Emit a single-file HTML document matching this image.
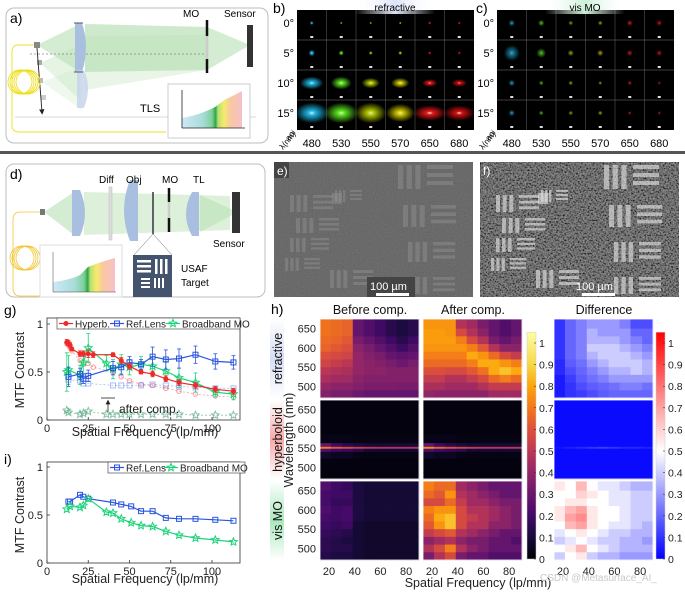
<!DOCTYPE html>
<html><head><meta charset="utf-8"><style>
html,body{margin:0;padding:0;background:#fff;}
svg{display:block;font-family:"Liberation Sans",Arial,sans-serif;}
</style></head><body>
<svg id="fig" width="685" height="592" viewBox="0 0 685 592" xmlns="http://www.w3.org/2000/svg">
<defs>
<linearGradient id="spec" x1="0" x2="1" y1="0" y2="0">
<stop offset="0" stop-color="#cfe9f7"/><stop offset="0.35" stop-color="#a8dcd8"/><stop offset="0.5" stop-color="#7fcf9a"/><stop offset="0.56" stop-color="#2aa84a"/><stop offset="0.6" stop-color="#b8e070"/><stop offset="0.7" stop-color="#f4ec6a"/><stop offset="0.8" stop-color="#f9c9a0"/><stop offset="1" stop-color="#f6c0c8"/>
</linearGradient>
<linearGradient id="bluebg" x1="0" x2="1"><stop offset="0" stop-color="#fff" stop-opacity="0"/><stop offset="0.5" stop-color="#dbe3f8"/><stop offset="1" stop-color="#fff" stop-opacity="0"/></linearGradient>
<linearGradient id="greenbg" x1="0" x2="1"><stop offset="0" stop-color="#fff" stop-opacity="0"/><stop offset="0.5" stop-color="#c9f0d6"/><stop offset="1" stop-color="#fff" stop-opacity="0"/></linearGradient>
<linearGradient id="sideBlue" x1="0" x2="0" y1="0" y2="1"><stop offset="0" stop-color="#fff"/><stop offset="0.5" stop-color="#d5def6"/><stop offset="1" stop-color="#fff"/></linearGradient>
<linearGradient id="sideRed" x1="0" x2="0" y1="0" y2="1"><stop offset="0" stop-color="#fff"/><stop offset="0.5" stop-color="#f6a9a9"/><stop offset="1" stop-color="#fff"/></linearGradient>
<linearGradient id="sideGreen" x1="0" x2="0" y1="0" y2="1"><stop offset="0" stop-color="#fff"/><stop offset="0.5" stop-color="#a9e8bd"/><stop offset="1" stop-color="#fff"/></linearGradient>
<linearGradient id="cbInferno" x1="0" x2="0" y1="1" y2="0">
<stop offset="0" stop-color="#000004"/><stop offset="0.095" stop-color="#160b39"/><stop offset="0.19" stop-color="#420a68"/><stop offset="0.286" stop-color="#6a176e"/><stop offset="0.381" stop-color="#932667"/><stop offset="0.476" stop-color="#bc3754"/><stop offset="0.571" stop-color="#dd513a"/><stop offset="0.667" stop-color="#f37819"/><stop offset="0.762" stop-color="#fca50a"/><stop offset="0.857" stop-color="#f6d746"/><stop offset="1" stop-color="#fcffa4"/>
</linearGradient>
<linearGradient id="cbBWR" x1="0" x2="0" y1="1" y2="0"><stop offset="0" stop-color="#0000ff"/><stop offset="0.476" stop-color="#ffffff"/><stop offset="1" stop-color="#ff0000"/></linearGradient>
<filter id="noiseE" x="0" y="0" width="1" height="1"><feTurbulence type="fractalNoise" baseFrequency="0.9" numOctaves="1" seed="3"/><feColorMatrix type="matrix" values="0 0 0 0 0.42 0 0 0 0 0.42 0 0 0 0 0.42 0.2 0.2 0.2 0 -0.15"/></filter>
<filter id="noiseF" x="0" y="0" width="1" height="1"><feTurbulence type="fractalNoise" baseFrequency="0.6" numOctaves="2" seed="7"/><feColorMatrix type="matrix" values="1.3 0 0 0 -0.38 1.3 0 0 0 -0.38 1.3 0 0 0 -0.38 0 0 0 0 1"/></filter>
<marker id="arrowHead" markerWidth="6" markerHeight="6" refX="3" refY="3" orient="auto"><path d="M0,0 L6,3 L0,6 z" fill="#222"/></marker>
</defs>

<!-- Panel a -->
<g>
<rect x="6" y="8" width="262" height="135" rx="8" fill="#fff" stroke="#bdbdbd"/>
<polygon points="37,45 80,24 80,72" fill="#9fd49a" opacity="0.45"/>
<polygon points="40,63 80,45 80,100" fill="#b7e0b1" opacity="0.35"/>
<polygon points="42,82 82,66 82,110" fill="#c7e8c2" opacity="0.3"/>
<polygon points="85,24 207,27 207,70 85,72" fill="#9fd49a" opacity="0.5"/>
<polygon points="85,36 207,35 207,70 85,90" fill="#b7e0b1" opacity="0.3"/>
<polygon points="207,27 250,45 207,70" fill="#9fd49a" opacity="0.45"/>
<line x1="30" y1="54" x2="207" y2="54" stroke="#888" stroke-dasharray="2,2" stroke-width="0.7"/>
<path d="M75,23 L82,23 Q90,47 82,72 L75,72 Z" fill="#a9bfe0"/>
<path d="M77,70 L84,70 Q92,88 84,108 L77,108 Z" fill="#c4d3ec" opacity="0.8"/>
<line x1="74" y1="23" x2="83" y2="23" stroke="#556" stroke-width="1"/>
<line x1="74" y1="72" x2="83" y2="72" stroke="#556" stroke-width="1"/>
<line x1="207" y1="20" x2="207" y2="36" stroke="#111" stroke-width="2.5"/>
<line x1="207" y1="36" x2="207" y2="59" stroke="#ccc" stroke-width="2.5"/>
<line x1="207" y1="59" x2="207" y2="73" stroke="#111" stroke-width="2.5"/>
<rect x="247" y="25" width="6" height="42" fill="#333"/>
<rect x="34" y="42" width="6" height="6" fill="#888"/>
<rect x="37" y="60" width="5" height="5" fill="#aaa"/>
<rect x="38" y="78" width="5" height="5" fill="#bbb"/>
<rect x="41" y="95" width="5" height="5" fill="#ccc"/>
<line x1="37" y1="48" x2="42" y2="112" stroke="#222" stroke-width="0.9" marker-end="url(#arrowHead)"/>
<g fill="none" stroke="#f0df20" stroke-width="0.9">
<circle cx="20" cy="82" r="12"/><circle cx="22" cy="82" r="12"/><circle cx="24" cy="82" r="12"/><circle cx="26" cy="82" r="12"/><circle cx="28" cy="82" r="12"/>
<path d="M34,45 L18,45 Q12,45 12,52 L12,126 Q12,132 20,132 L166,132"/>
</g>
<line x1="15" y1="117" x2="256" y2="117" stroke="#ccc" stroke-width="0.8"/>
<rect x="168" y="84" width="82" height="54" fill="#fff" stroke="#ccc"/>
<path d="M182,128 L182,118 Q200,115 215,107 L226,99 Q235,95 242,91 L242,128 Z" fill="url(#spec)"/>
<line x1="182" y1="128" x2="245" y2="128" stroke="#222" stroke-width="0.8"/>
<line x1="182" y1="128" x2="182" y2="90" stroke="#222" stroke-width="0.8"/>
<text x="10" y="23" font-size="14">a)</text>
<text x="183" y="17" font-size="10">MO</text>
<text x="224" y="17" font-size="10">Sensor</text>
<text x="140" y="112" font-size="11">TLS</text>
</g>

<!-- Panels b, c spots -->
<g id="spots"></g>
<rect x="355" y="0" width="80" height="14" fill="url(#bluebg)"/>
<rect x="545" y="0" width="80" height="14" fill="url(#greenbg)"/>
<text x="273" y="13" font-size="14">b)</text>
<text x="395" y="11" font-size="10" text-anchor="middle">refractive</text>
<text x="476" y="13" font-size="14">c)</text>
<text x="585" y="11" font-size="10" text-anchor="middle">vis MO</text>

<rect x="0" y="151" width="685" height="3" fill="#555"/>

<!-- Panel d -->
<g>
<rect x="6" y="164" width="259" height="133" rx="8" fill="#fff" stroke="#bdbdbd"/>
<polygon points="44,212 74,192 74,235" fill="#a9d9a3" opacity="0.5"/>
<polygon points="84,192 230,196 230,230 84,235" fill="#a9d9a3" opacity="0.4"/>
<polygon points="200,195 238,212 200,232" fill="#a9d9a3" opacity="0.4"/>
<path d="M72,190 L80,190 Q90,213 80,236 L72,236 Z" fill="#a9bfe0"/>
<rect x="109" y="187" width="3" height="53" fill="#ddd" stroke="#bbb" stroke-width="0.5"/>
<path d="M130,180 L138,180 L138,241 L130,241 Q118,210 130,180 Z" fill="#a9bfe0"/>
<line x1="153" y1="192" x2="153" y2="234" stroke="#334" stroke-width="1.5"/>
<line x1="169" y1="188" x2="169" y2="202" stroke="#111" stroke-width="2.5"/>
<line x1="169" y1="202" x2="169" y2="218" stroke="#ccc" stroke-width="2.5"/>
<line x1="169" y1="218" x2="169" y2="232" stroke="#111" stroke-width="2.5"/>
<path d="M192,192 L199,192 L199,236 L192,236 Q180,214 192,192 Z" fill="#a9bfe0"/>
<rect x="232" y="192" width="8" height="41" fill="#333"/>
<rect x="40" y="209" width="5" height="6" fill="#777"/>
<g fill="none" stroke="#f2c530" stroke-width="0.8">
<circle cx="22" cy="258" r="12"/><circle cx="24" cy="258" r="12"/><circle cx="26" cy="258" r="12"/><circle cx="28" cy="258" r="12"/>
<path d="M40,212 L20,212 Q13,212 13,220 L13,288 Q13,296 20,296 L40,296"/>
</g>
<rect x="40" y="245" width="82" height="52" fill="#fff" stroke="#ddd"/>
<path d="M53,292 L53,282 Q70,280 80,275 L88,267 Q100,262 115,258 L115,292 Z" fill="url(#spec)"/>
<line x1="53" y1="292" x2="116" y2="292" stroke="#444" stroke-width="0.5"/>
<line x1="53" y1="292" x2="53" y2="252" stroke="#444" stroke-width="0.5"/>
<line x1="153" y1="234" x2="134" y2="255" stroke="#666" stroke-width="0.5"/>
<line x1="153" y1="234" x2="172" y2="255" stroke="#666" stroke-width="0.5"/>
<rect x="133" y="255" width="39" height="42" fill="#44546e"/>
<g fill="#fff"><rect x="137" y="260" width="14" height="2.5"/><rect x="137" y="265" width="14" height="2.5"/><rect x="137" y="270" width="14" height="2.5"/><rect x="155" y="259" width="2.5" height="15"/><rect x="160" y="259" width="2.5" height="15"/><rect x="165" y="259" width="2.5" height="15"/>
<rect x="141" y="278" width="9" height="2"/><rect x="141" y="282" width="9" height="2"/><rect x="141" y="286" width="9" height="2"/><rect x="154" y="278" width="2" height="10"/><rect x="158" y="278" width="2" height="10"/><rect x="162" y="278" width="2" height="10"/></g>
<text x="10" y="179" font-size="14">d)</text>
<text x="99" y="183" font-size="10">Diff</text>
<text x="126" y="183" font-size="10">Obj</text>
<text x="162" y="183" font-size="10">MO</text>
<text x="193" y="183" font-size="10">TL</text>
<text x="213" y="247" font-size="10">Sensor</text>
<text x="181" y="272" font-size="10">USAF</text>
<text x="181" y="286" font-size="10">Target</text>
</g>

<!-- Panels e, f -->
<g>
<rect x="274" y="162" width="199" height="135" fill="#5e5e5e"/>
<rect x="274" y="162" width="199" height="135" filter="url(#noiseE)"/>
<g id="barsE"></g>
<rect x="274" y="162" width="15" height="16" fill="#444"/>
<text x="277" y="175" font-size="12" fill="#fff">e)</text>
<rect x="367" y="277" width="48" height="20" fill="#444"/>
<text x="370" y="290" font-size="11" fill="#fff">100 µm</text>
<rect x="376" y="293" width="33" height="3" fill="#fff"/>
</g>
<g>
<rect x="480" y="162" width="199" height="135" fill="#4a4a4a"/>
<rect x="480" y="162" width="199" height="135" filter="url(#noiseF)" opacity="0.55"/>
<g id="barsF"></g>
<text x="483" y="175" font-size="12" fill="#fff">f)</text>
<text x="576" y="290" font-size="11" fill="#fff">100 µm</text>
<rect x="582" y="293" width="33" height="3" fill="#fff"/>
</g>

<!-- Panel g / i -->
<g id="chartG"></g>
<g id="chartI"></g>
<text x="4" y="315" font-size="14">g)</text>
<text x="4" y="464" font-size="14">i)</text>

<!-- Panel h -->
<g id="chartH"></g>
<text x="271" y="314" font-size="14">h)</text>
<text x="540" y="581" font-size="10" fill="#c8c8c8">CSDN @Metasurface_AI_</text>
</svg>
<script>
const NS='http://www.w3.org/2000/svg';
const svg=document.getElementById('fig');
function mk(tag,attrs,parent){const e=document.createElementNS(NS,tag);for(const k in attrs)e.setAttribute(k,attrs[k]);(parent||svg).appendChild(e);return e;}
function txt(s,attrs,parent){const e=mk('text',attrs,parent);e.textContent=s;return e;}

/* ---------- b/c spot grids ---------- */
const spotWavelengths=[480,530,550,570,650,680];
const spotAngles=['0°','5°','10°','15°'];
const refrSpotRx=[[1.5,1,1,1,1.2,1.2],[2.5,2,1.5,1.5,1.2,1.2],[9,8,7,7,6,6],[13,13,12,11,13,12]];
const refrSpotRy=[[1.5,1,1,1,1.2,1.2],[2.5,2,1.5,1.5,1.2,1.2],[5,5,4,4,3,3],[8,8,8,7,6,6]];
const moSpotRx=[[2,2,1.5,1.5,2,2],[5,3,2,2,2,2],[2,1.5,1.5,1.2,1.5,1.2],[2,1.5,1.5,1.5,1.2,1.2]];
const spotColors=['#22ccff','#66ff22','#c8e000','#e8e000','#ff1a1a','#ee1111'];
const spotsG=document.getElementById('spots');
const defs=svg.querySelector('defs');
spotColors.forEach((c,i)=>{const g=mk('radialGradient',{id:'sp'+i},defs);mk('stop',{offset:'0','stop-color':'#fff'},g);mk('stop',{offset:'0.2','stop-color':c},g);mk('stop',{offset:'1','stop-color':c,'stop-opacity':'0'},g);});
function spotGrid(x0,rx,ry,scale,op){
  const w=29.5,h=30,y0=10;
  const bg=mk('rect',{x:x0,y:y0,width:w*6,height:h*4,fill:'#000'},spotsG);
  
  
  for(let r=0;r<4;r++)for(let c=0;c<6;c++){
    const cx=x0+w*c+w/2, cy=y0+h*r+h/2-2;
    const s=mk('ellipse',{cx:cx,cy:cy,rx:rx[r][c]*scale,ry:(ry?ry[r][c]:rx[r][c])*scale,fill:'url(#sp'+c+')',opacity:op},spotsG);
    
    
    mk('rect',{x:cx-1.5,y:y0+h*r+h-4,width:3,height:2,fill:'#ddd'},spotsG);
  }
  for(let c=1;c<6;c++)mk('line',{x1:x0+w*c,y1:y0,x2:x0+w*c,y2:y0+h*4,stroke:'#555','stroke-width':0.6},spotsG);
  for(let r=1;r<4;r++)mk('line',{x1:x0,y1:y0+h*r,x2:x0+w*6,y2:y0+h*r,stroke:'#777','stroke-width':0.6},spotsG);
  spotAngles.forEach((a,r)=>{const t=txt(a,{x:x0-3,y:y0+h*r+h/2+2,'font-size':11,'text-anchor':'end'},spotsG);});
  spotWavelengths.forEach((wl,c)=>{const t=txt(String(wl),{x:x0+w*c+w/2,y:147,'font-size':11,'text-anchor':'middle'},spotsG);});
  txt('aoi',{x:0,y:0,'font-size':8,transform:'translate('+(x0-8)+',141) rotate(-50)'},spotsG);
  txt('λ(nm)',{x:0,y:0,'font-size':8,transform:'translate('+(x0-14)+',150) rotate(-50)'},spotsG);
}
spotGrid(297,refrSpotRx,refrSpotRy,1.3,0.9);
spotGrid(497,moSpotRx,null,1.6,0.6);

/* ---------- e/f USAF bars ---------- */
function usaf(gid,ox,col,op){
  const g=document.getElementById(gid);
  const groups=[[398,165,26,24],[403,205,25,22],[408,242,22,20],[408,277,22,17],[290,195,20,17],[296,218,20,15],[290,238,18,14],[285,258,16,13],[330,270,20,18],[335,190,12,12]];
  groups.forEach(q=>{
    const [x,y,w,h]=q;const X=x+ox;
    for(let k=0;k<3;k++){mk('rect',{x:X+k*w/3,y:y,width:w/5,height:h,fill:col,opacity:op},g);}
    for(let k=0;k<3;k++){mk('rect',{x:X+w+3,y:y+k*h/3,width:w,height:h/6,fill:col,opacity:op},g);}
  });
  mk('rect',{x:332+ox,y:193,width:10,height:11,fill:col,opacity:op},g);
}
usaf('barsE',0,'#999',0.4);
usaf('barsF',206,'#ddd',0.65);

/* ---------- Chart g ---------- */
const gFreqHyp=[12,13,14,15,20,22,25,28,40,45,50,57,64,72,80,90,102,113];
const gHyp=[0.81,0.80,0.78,0.74,0.69,0.69,0.69,0.68,0.68,0.62,0.56,0.50,0.48,0.43,0.39,0.36,0.32,0.30];
const gHypErr=[0.03,0.03,0.03,0.02,0.03,0.03,0.04,0.03,0.02,0.03,0.03,0.02,0.03,0.03,0.03,0.03,0.03,0.03];
const gHypComp=[0.80,0.78,0.75,0.72,0.62,0.58,0.59,0.55,0.50,0.45,0.41,0.37,0.36,0.33,0.30,0.27,0.25,0.24];
const gFreqRef=[13,20,22,25,40,45,50,57,64,72,80,90,102,113];
const gRef=[0.45,0.48,0.43,0.46,0.54,0.55,0.60,0.58,0.66,0.63,0.64,0.68,0.61,0.60];
const gRefErr=[0.1,0.06,0.05,0.06,0.07,0.08,0.06,0.05,0.1,0.1,0.1,0.09,0.08,0.07];
const gRefComp=[0.42,0.41,0.38,0.38,0.36,0.36,0.36,0.36,0.37,0.36,0.35,0.34,0.33,0.33];
const gFreqMO=[12,13,20,22,25,36,40,45,50,57,64,72,80,90,102,113];
const gMO=[0.50,0.52,0.47,0.60,0.75,0.59,0.53,0.58,0.55,0.58,0.56,0.51,0.44,0.39,0.29,0.27];
const gMOErr=[0.2,0.15,0.1,0.12,0.15,0.08,0.1,0.1,0.08,0.08,0.1,0.1,0.1,0.1,0.05,0.06];
const gMOComp=[0.10,0.08,0.06,0.07,0.09,0.06,0.06,0.06,0.06,0.06,0.06,0.06,0.06,0.05,0.05,0.05];
const xTicks=[0,25,50,75,100];
const yTicks=[0,0.5,1];
const yTickLabels=['0','0.5','1'];
/* ---------- Chart i ---------- */
const iFreqRef=[13,14,20,22,25,40,45,51,57,64,72,80,90,102,113];
const iRef=[0.64,0.64,0.71,0.69,0.67,0.63,0.61,0.59,0.54,0.54,0.47,0.46,0.46,0.45,0.44];
const iFreqMO=[12,14,20,22,25,36,40,45,51,57,64,72,80,90,102,113];
const iMO=[0.56,0.59,0.58,0.60,0.67,0.53,0.52,0.46,0.42,0.39,0.38,0.33,0.29,0.26,0.24,0.22];

const RED='#f02828',BLUE='#2a55e0',GREEN='#1fd37a';
const xS=f=>47+f*1.65;
function starPath(cx,cy,r){let d='';for(let k=0;k<10;k++){const a=-Math.PI/2+k*Math.PI/5;const rr=k%2?r*0.45:r;d+=(k?'L':'M')+(cx+rr*Math.cos(a)).toFixed(1)+','+(cy+rr*Math.sin(a)).toFixed(1);}return d+'Z';}
function marker(g,type,x,y,col,op){
  let m;
  if(type==='sq')m=mk('rect',{x:x-2.5,y:y-2.5,width:5,height:5,fill:'none',stroke:col,'stroke-width':1,opacity:op},g);
  else if(type==='star')m=mk('path',{d:starPath(x,y,4),fill:'none',stroke:col,'stroke-width':1,opacity:op},g);
  else if(type==='circ')m=mk('circle',{cx:x,cy:y,r:2.2,fill:'none',stroke:col,'stroke-width':1,opacity:op},g);
  else m=mk('circle',{cx:x,cy:y,r:2.5,fill:col,opacity:op},g);
  
  
}
function series(g,xs,ys,yS,col,type,op,dash,err,name){
  const pts=xs.map((f,i)=>xS(f).toFixed(1)+','+yS(ys[i]).toFixed(1)).join(' ');
  const l=mk('polyline',{points:pts,fill:'none',stroke:col,'stroke-width':dash?0.8:1.2,opacity:op,'stroke-dasharray':dash?'2,2':'none'},g);
  
  
  if(err)xs.forEach((f,i)=>{const x=xS(f);mk('line',{x1:x,x2:x,y1:yS(ys[i]-err[i]),y2:yS(ys[i]+err[i]),stroke:col,'stroke-width':0.8,opacity:op},g);mk('line',{x1:x-2,x2:x+2,y1:yS(ys[i]-err[i]),y2:yS(ys[i]-err[i]),stroke:col,'stroke-width':0.8,opacity:op},g);mk('line',{x1:x-2,x2:x+2,y1:yS(ys[i]+err[i]),y2:yS(ys[i]+err[i]),stroke:col,'stroke-width':0.8,opacity:op},g);});
  xs.forEach((f,i)=>marker(g,type,xS(f),yS(ys[i]),col,op));
}
function axes(g,top,bottom,yS,ylabelY,xlabelY){
  const fr=mk('rect',{x:47,y:top,width:193,height:bottom-top,fill:'none',stroke:'#333','stroke-width':0.8},g);
  
  
  xTicks.forEach(t=>{const x=xS(t);mk('line',{x1:x,x2:x,y1:bottom,y2:bottom-3,stroke:'#333','stroke-width':0.8},g);const lb=txt(String(t),{x:x,y:bottom+12,'font-size':11,'text-anchor':'middle',fill:'#222'},g);});
  yTicks.forEach((t,i)=>{const y=yS(t);mk('line',{x1:47,x2:50,y1:y,y2:y,stroke:'#333','stroke-width':0.8},g);const lb=txt(yTickLabels[i],{x:43,y:y+4,'font-size':11,'text-anchor':'end',fill:'#222'},g);});
  const xl=txt('Spatial Frequency (lp/mm)',{x:145,y:xlabelY,'font-size':12.5,'text-anchor':'middle',fill:'#222'},g);
  
  
  const yl=txt('MTF Contrast',{x:0,y:0,'font-size':12.5,'text-anchor':'middle',fill:'#222',transform:'translate(24,'+ylabelY+') rotate(-90)'},g);
  
  
}
function legendEntry(g,x,y,col,type,label){
  mk('line',{x1:x,x2:x+14,y1:y,y2:y,stroke:col,'stroke-width':1.2},g);
  marker(g,type,x+7,y,col,1);
  const t=txt(label,{x:x+16,y:y+4,'font-size':10,fill:'#222'},g);
  
  
}
const G=document.getElementById('chartG');
const gy=v=>420-v*96;
axes(G,318,420,gy,370,436);
series(G,gFreqHyp,gHypComp,gy,RED,'circ',0.45,true,null,'hyperb-after-comp-line');
series(G,gFreqRef,gRefComp,gy,BLUE,'sq',0.4,true,null,'reflens-after-comp-line');
series(G,gFreqMO,gMOComp,gy,'#3a9a6a','star',0.6,true,null,'mo-after-comp-line');
series(G,gFreqMO,gMO,gy,GREEN,'star',1,false,gMOErr,'broadband-mo-line');
series(G,gFreqRef,gRef,gy,BLUE,'sq',1,false,gRefErr,'reflens-line');
series(G,gFreqHyp,gHyp,gy,RED,'dot',1,false,gHypErr,'hyperb-line');
const lgG=mk('rect',{x:57,y:318,width:183,height:11,fill:'#fff',stroke:'#333','stroke-width':0.6},G);


legendEntry(G,59,323.5,RED,'dot','Hyperb.');
legendEntry(G,110,323.5,BLUE,'sq','Ref.Lens');
legendEntry(G,166,323.5,GREEN,'star','Broadband MO');
mk('line',{x1:101,x2:115,y1:398,y2:398,stroke:'#222','stroke-width':0.8},G);
mk('line',{x1:108,x2:108,y1:412,y2:402,stroke:'#222','stroke-width':0.8,'marker-end':'url(#arrowHead)'},G);
const ac=txt('after comp.',{x:119,y:413,'font-size':12,fill:'#222'},G);



const I=document.getElementById('chartI');
const iy=v=>563-v*96;
axes(I,462,563,iy,515,583);
series(I,iFreqRef,iRef,iy,BLUE,'sq',1,false,null,'reflens-line-i');
series(I,iFreqMO,iMO,iy,GREEN,'star',1,false,null,'broadband-mo-line-i');
const lgI=mk('rect',{x:108,y:462,width:137,height:11,fill:'#fff',stroke:'#333','stroke-width':0.6},I);


legendEntry(I,110,467.5,BLUE,'sq','Ref.Lens');
legendEntry(I,164,467.5,GREEN,'star','Broadband MO');

/* ---------- Chart h heatmaps ---------- */
const hFreq=[17,26,34,43,51,60,68,77,86];
const hFreqTicks=[20,40,60,80];
const hWlTicks=[650,600,550,500];
const cbTicks=[0,0.1,0.2,0.3,0.4,0.5,0.6,0.7,0.8,0.9,1];
const cbTickLabels=['0','0.1','0.2','0.3','0.4','0.5','0.6','0.7','0.8','0.9','1'];
const wlRefr=[660,640,620,600,580,560,540,520,500,480];
const refrBefore=[
[.72,.70,.68,.30,.25,.20,.15,.12,.15],[.72,.70,.68,.30,.25,.20,.15,.12,.15],[.70,.68,.65,.35,.30,.25,.20,.15,.20],[.68,.65,.62,.40,.35,.30,.25,.20,.25],[.62,.60,.58,.42,.38,.35,.30,.28,.30],
[.58,.55,.52,.42,.40,.38,.35,.32,.35],[.52,.50,.48,.42,.40,.40,.38,.38,.38],[.48,.45,.45,.40,.38,.38,.38,.38,.38],[.42,.40,.40,.38,.36,.36,.36,.35,.35],[.38,.35,.35,.32,.30,.30,.30,.30,.30]];
const refrAfter=[
[.80,.80,.80,.50,.45,.35,.30,.25,.30],[.82,.82,.80,.60,.50,.40,.30,.25,.30],[.82,.82,.82,.75,.60,.50,.35,.30,.35],[.80,.80,.80,.80,.75,.65,.50,.40,.40],[.75,.75,.75,.75,.85,.80,.70,.60,.55],
[.70,.70,.70,.70,.75,.85,.85,.80,.75],[.62,.62,.60,.60,.65,.72,.85,.90,.85],[.55,.55,.50,.50,.55,.60,.70,.75,.70],[.48,.48,.45,.45,.45,.50,.55,.55,.55],[.42,.40,.40,.40,.40,.40,.45,.45,.45]];
const refrDiff=[
[.10,.20,.25,.30,.30,.30,.25,.15,.15],[.10,.20,.25,.35,.30,.30,.30,.20,.20],[.10,.20,.25,.35,.35,.35,.30,.25,.20],[.10,.20,.25,.40,.40,.40,.35,.30,.25],[.10,.20,.25,.35,.40,.40,.40,.35,.30],
[.08,.18,.22,.30,.35,.40,.40,.40,.35],[.08,.15,.20,.25,.30,.35,.35,.40,.35],[.05,.12,.18,.22,.25,.30,.30,.30,.30],[.05,.10,.15,.18,.20,.22,.25,.25,.22],[.05,.10,.12,.15,.18,.20,.20,.20,.20]];
const wlHyp=[660,630,600,570,556,551,546,535,510,480];
const hypBefore=[
[.02,.02,.02,.02,.02,.02,.02,.02,.02],[.02,.02,.02,.02,.02,.02,.02,.02,.02],[.02,.02,.02,.02,.02,.02,.02,.02,.02],[.04,.04,.04,.03,.03,.03,.03,.03,.03],[.30,.20,.15,.12,.10,.10,.10,.10,.10],
[.75,.65,.60,.55,.52,.50,.50,.50,.50],[.25,.20,.18,.15,.10,.10,.10,.10,.10],[.08,.06,.06,.04,.03,.03,.03,.03,.03],[.02,.02,.02,.02,.02,.02,.02,.02,.02],[.02,.02,.02,.02,.02,.02,.02,.02,.02]];
const hypAfter=[
[.02,.02,.02,.02,.02,.02,.02,.02,.02],[.02,.02,.02,.02,.02,.02,.02,.02,.02],[.02,.02,.02,.02,.02,.02,.02,.02,.02],[.04,.04,.04,.03,.03,.03,.03,.03,.03],[.30,.20,.15,.12,.10,.10,.10,.10,.10],
[.78,.68,.62,.58,.55,.52,.52,.52,.52],[.25,.20,.18,.15,.10,.10,.10,.10,.10],[.08,.06,.06,.04,.03,.03,.03,.03,.03],[.02,.02,.02,.02,.02,.02,.02,.02,.02],[.02,.02,.02,.02,.02,.02,.02,.02,.02]];
const hypDiff=[
[.02,.02,.02,.02,.02,.02,.02,.02,.02],[.02,.02,.02,.02,.02,.02,.02,.02,.02],[.02,.02,.02,.02,.02,.02,.02,.02,.02],[.02,.02,.02,.02,.02,.02,.02,.02,.02],[.02,.02,.02,.02,.02,.02,.02,.02,.02],
[.04,.06,.08,.10,.12,.10,.08,.08,.06],[.02,.02,.02,.02,.02,.02,.02,.02,.02],[.02,.02,.02,.02,.02,.02,.02,.02,.02],[.02,.02,.02,.02,.02,.02,.02,.02,.02],[.02,.02,.02,.02,.02,.02,.02,.02,.02]];
const wlMO=[660,640,620,600,580,560,540,520,500,480];
const moBefore=[
[.25,.20,.18,.12,.10,.10,.10,.10,.10],[.22,.20,.20,.12,.10,.10,.10,.10,.10],[.22,.18,.18,.12,.10,.10,.10,.10,.10],[.24,.20,.22,.12,.10,.10,.10,.10,.10],[.22,.20,.22,.12,.10,.10,.10,.10,.10],
[.20,.18,.20,.10,.08,.08,.08,.08,.08],[.18,.16,.14,.10,.08,.08,.08,.08,.08],[.16,.14,.12,.10,.08,.08,.08,.08,.08],[.16,.14,.14,.10,.08,.08,.08,.08,.08],[.14,.12,.12,.10,.08,.08,.08,.08,.08]];
const moAfter=[
[.75,.70,.70,.45,.40,.35,.30,.30,.30],[.70,.65,.80,.50,.45,.40,.35,.30,.30],[.60,.60,.70,.55,.45,.45,.40,.35,.35],[.75,.80,.80,.60,.50,.50,.45,.40,.35],[.70,.85,.90,.60,.55,.50,.45,.40,.35],
[.65,.80,.90,.60,.50,.50,.40,.40,.35],[.55,.60,.65,.50,.45,.40,.35,.30,.30],[.40,.45,.50,.40,.35,.35,.30,.30,.25],[.50,.60,.75,.50,.40,.35,.30,.30,.30],[.35,.50,.60,.35,.30,.30,.25,.25,.25]];
const moDiff=[
[.55,.50,.65,.50,.45,.45,.40,.35,.35],[.50,.50,.60,.55,.50,.45,.45,.40,.40],[.50,.55,.55,.50,.50,.45,.45,.40,.40],[.55,.65,.70,.55,.50,.50,.45,.40,.40],[.55,.70,.75,.55,.50,.50,.45,.40,.40],
[.50,.65,.70,.55,.50,.45,.45,.40,.35],[.45,.50,.55,.50,.45,.40,.40,.35,.35],[.40,.45,.50,.45,.40,.40,.35,.35,.30],[.50,.55,.65,.50,.45,.40,.35,.35,.35],[.40,.50,.55,.40,.35,.35,.30,.30,.30]];

const infernoStops=[[0,0,4],[22,11,57],[66,10,104],[106,23,110],[147,38,103],[188,55,84],[221,81,58],[243,120,25],[252,165,10],[246,215,70],[252,255,164]];
function inferno(v){let t=Math.max(0,Math.min(1,v/1.05))*10;const i=Math.min(9,Math.floor(t)),f=t-i;const a=infernoStops[i],b=infernoStops[i+1];return 'rgb('+a.map((c,k)=>Math.round(c+(b[k]-c)*f)).join(',')+')';}
function bwr(v){const t=Math.max(0,Math.min(1,v/1.05));if(t<0.476){const f=t/0.476;return 'rgb('+Math.round(255*f)+','+Math.round(255*f)+',255)';}const f=(t-0.476)/0.524;return 'rgb(255,'+Math.round(255*(1-f))+','+Math.round(255*(1-f))+')';}

const H=document.getElementById('chartH');
const HW=99,HH=79,WLTOP=675,WLBOT=470,FMIN=13,FMAX=90;
const colLeft=[320,423,554];
const rowTop=[319,400,481];
const xh=(f,left)=>left+(f-FMIN)*HW/(FMAX-FMIN);
const yh=(w,top)=>top+(WLTOP-w)*HH/(WLTOP-WLBOT);
function heat(left,top,wl,data,cmap,name){
  const n=wl.length;
  for(let i=0;i<n;i++){
    const up=i===0?WLTOP:(wl[i-1]+wl[i])/2, lo=i===n-1?WLBOT:(wl[i]+wl[i+1])/2;
    for(let j=0;j<hFreq.length;j++){
      const fl=j===0?FMIN:(hFreq[j-1]+hFreq[j])/2, fr=j===hFreq.length-1?FMAX:(hFreq[j]+hFreq[j+1])/2;
      const x0=xh(fl,left),x1=xh(fr,left),y0=yh(up,top),y1=yh(lo,top);
      const c=mk('rect',{x:x0.toFixed(2),y:y0.toFixed(2),width:(x1-x0+0.4).toFixed(2),height:(y1-y0+0.4).toFixed(2),fill:cmap(data[i][j])},H);
      
      
    }
  }
  mk('rect',{x:left,y:top,width:HW,height:HH,fill:'none',stroke:'#fff','stroke-width':0.8},H);
}
const systems=[[wlRefr,refrBefore,refrAfter,refrDiff,'refractive'],[wlHyp,hypBefore,hypAfter,hypDiff,'hyperboloid'],[wlMO,moBefore,moAfter,moDiff,'vis-mo']];
systems.forEach((s,r)=>{
  heat(colLeft[0],rowTop[r],s[0],s[1],inferno,s[4]+'-before');
  heat(colLeft[1],rowTop[r],s[0],s[2],inferno,s[4]+'-after');
  heat(colLeft[2],rowTop[r],s[0],s[3],bwr,s[4]+'-difference');
  hWlTicks.forEach(w=>{const t=txt(String(w),{x:316,y:yh(w,rowTop[r])+4,'font-size':11,'text-anchor':'end',fill:'#222'},H);});
});
[0,1,2].forEach(c=>hFreqTicks.forEach(f=>{const t=txt(String(f),{x:xh(f,colLeft[c]),y:575,'font-size':11,'text-anchor':'middle',fill:'#222'},H);}));
const cbs=[[527,'url(#cbInferno)'],[656,'url(#cbBWR)']];
const cbY=v=>559-v*216;
cbs.forEach(cb=>{
  const r=mk('rect',{x:cb[0],y:cbY(1.05),width:9,height:cbY(0)-cbY(1.05),fill:cb[1],stroke:'#ccc','stroke-width':0.5},H);
  
  
  cbTicks.forEach((v,i)=>{mk('line',{x1:cb[0]+7,x2:cb[0]+9,y1:cbY(v),y2:cbY(v),stroke:'#333','stroke-width':0.6},H);const t=txt(cbTickLabels[i],{x:cb[0]+12,y:cbY(v)+4,'font-size':10.5,fill:'#222'},H);});
});
[['Before comp.',370],['After comp.',473],['Difference',604]].forEach(a=>{const t=txt(a[0],{x:a[1],y:314,'font-size':12.5,'text-anchor':'middle',fill:'#111'},H);});
const sideLabels=[['refractive','url(#sideBlue)'],['hyperboloid','url(#sideRed)'],['vis MO','url(#sideGreen)']];
sideLabels.forEach((s,r)=>{
  mk('rect',{x:270,y:rowTop[r],width:14,height:HH,fill:s[1]},H);
  const t=txt(s[0],{x:0,y:0,'font-size':12.5,'text-anchor':'middle',fill:'#111',transform:'translate(282,'+(rowTop[r]+HH/2)+') rotate(-90)'},H);
  
  
});
const wlt=txt('Wavelength (nm)',{x:0,y:0,'font-size':12.5,'text-anchor':'middle',fill:'#222',transform:'translate(293,440) rotate(-90)'},H);


const sft=txt('Spatial Frequency (lp/mm)',{x:478,y:587,'font-size':12.5,'text-anchor':'middle',fill:'#222'},H);


</script>
</body></html>
